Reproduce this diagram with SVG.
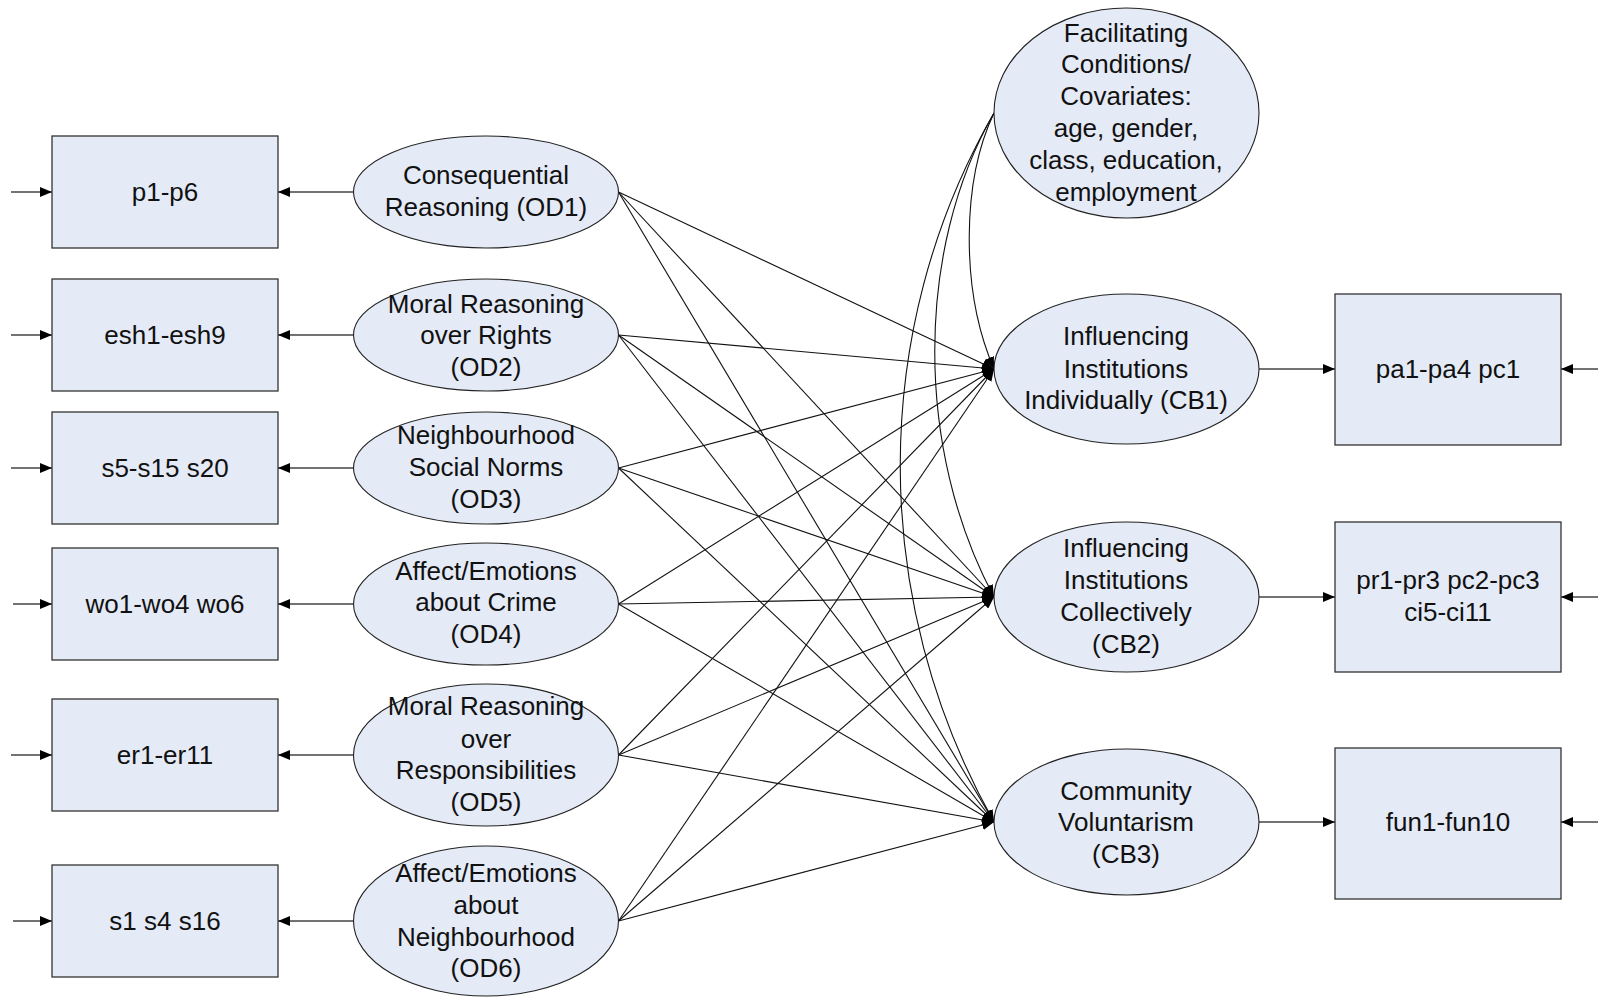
<svg xmlns="http://www.w3.org/2000/svg" width="1598" height="998" viewBox="0 0 1598 998">
<defs>
<marker id="arr" viewBox="0 0 12 10" refX="12" refY="5" markerWidth="12" markerHeight="10" orient="auto" markerUnits="userSpaceOnUse"><path d="M0,0 L12,5 L0,10 z" fill="#000"/></marker>
</defs>
<style>
.box{fill:#E4EAF6;stroke:#333;stroke-width:1.3}
.ell{fill:#E4EAF6;stroke:#222;stroke-width:1.1}
.t{font-family:"Liberation Sans",Arial,sans-serif;font-size:26px;fill:#111;text-anchor:middle}
.c{fill:none;stroke:#111;stroke-width:1.1;marker-end:url(#arr)}
.g{fill:none;stroke:#444;stroke-width:1.3;marker-end:url(#arr)}
</style>
<rect width="1598" height="998" fill="#fff"/>
<g id="connectors">
<path class="g" d="M11 192H52"/>
<path class="g" d="M11 335H52"/>
<path class="g" d="M11 468H52"/>
<path class="g" d="M13 604H52"/>
<path class="g" d="M11 755H52"/>
<path class="g" d="M13 921H52"/>
<path class="g" d="M353.5 192H278"/>
<path class="g" d="M353.5 335H278"/>
<path class="g" d="M353.5 468H278"/>
<path class="g" d="M353.5 604H278"/>
<path class="g" d="M353.5 755H278"/>
<path class="g" d="M353.5 921H278"/>
<path class="g" d="M1259 369H1335"/>
<path class="g" d="M1259 597H1335"/>
<path class="g" d="M1259 822H1335"/>
<path class="g" d="M1598 369H1561"/>
<path class="g" d="M1598 597H1561"/>
<path class="g" d="M1598 822H1561"/>
<path class="c" d="M618.5 192L994 369"/>
<path class="c" d="M618.5 192L994 597"/>
<path class="c" d="M618.5 192L994 822"/>
<path class="c" d="M618.5 335L994 369"/>
<path class="c" d="M618.5 335L994 597"/>
<path class="c" d="M618.5 335L994 822"/>
<path class="c" d="M618.5 468L994 369"/>
<path class="c" d="M618.5 468L994 597"/>
<path class="c" d="M618.5 468L994 822"/>
<path class="c" d="M618.5 604L994 369"/>
<path class="c" d="M618.5 604L994 597"/>
<path class="c" d="M618.5 604L994 822"/>
<path class="c" d="M618.5 755L994 369"/>
<path class="c" d="M618.5 755L994 597"/>
<path class="c" d="M618.5 755L994 822"/>
<path class="c" d="M618.5 921L994 369"/>
<path class="c" d="M618.5 921L994 597"/>
<path class="c" d="M618.5 921L994 822"/>
<path class="c" d="M994 113C962 180 960 290 994 369"/>
<path class="c" d="M994 113C915 250 915 450 994 597"/>
<path class="c" d="M994 113C869 330 869 600 994 822"/>
</g>
<g id="n-p1p6"><rect class="box" x="52" y="136" width="226" height="112"/><text class="t" x="165" y="201">p1-p6</text></g>
<g id="n-esh"><rect class="box" x="52" y="279" width="226" height="112"/><text class="t" x="165" y="344">esh1-esh9</text></g>
<g id="n-s5"><rect class="box" x="52" y="412" width="226" height="112"/><text class="t" x="165" y="477">s5-s15 s20</text></g>
<g id="n-wo"><rect class="box" x="52" y="548" width="226" height="112"/><text class="t" x="165" y="613">wo1-wo4 wo6</text></g>
<g id="n-er"><rect class="box" x="52" y="699" width="226" height="112"/><text class="t" x="165" y="764">er1-er11</text></g>
<g id="n-s1"><rect class="box" x="52" y="865" width="226" height="112"/><text class="t" x="165" y="930">s1 s4 s16</text></g>
<g id="n-od1"><ellipse class="ell" cx="486" cy="192" rx="132.5" ry="56"/><text class="t"><tspan x="486" y="184">Consequential</tspan><tspan x="486" y="216">Reasoning (OD1)</tspan></text></g>
<g id="n-od2"><ellipse class="ell" cx="486" cy="335" rx="132.5" ry="56"/><text class="t"><tspan x="486" y="313">Moral Reasoning</tspan><tspan x="486" y="344">over Rights</tspan><tspan x="486" y="376">(OD2)</tspan></text></g>
<g id="n-od3"><ellipse class="ell" cx="486" cy="468" rx="132.5" ry="56"/><text class="t"><tspan x="486" y="444">Neighbourhood</tspan><tspan x="486" y="476">Social Norms</tspan><tspan x="486" y="508">(OD3)</tspan></text></g>
<g id="n-od4"><ellipse class="ell" cx="486" cy="604" rx="132.5" ry="61"/><text class="t"><tspan x="486" y="580">Affect/Emotions</tspan><tspan x="486" y="611">about Crime</tspan><tspan x="486" y="643">(OD4)</tspan></text></g>
<g id="n-od5"><ellipse class="ell" cx="486" cy="755" rx="132.5" ry="71"/><text class="t"><tspan x="486" y="715">Moral Reasoning</tspan><tspan x="486" y="748">over</tspan><tspan x="486" y="779">Responsibilities</tspan><tspan x="486" y="811">(OD5)</tspan></text></g>
<g id="n-od6"><ellipse class="ell" cx="486" cy="921" rx="132.5" ry="75"/><text class="t"><tspan x="486" y="882">Affect/Emotions</tspan><tspan x="486" y="914">about</tspan><tspan x="486" y="946">Neighbourhood</tspan><tspan x="486" y="977">(OD6)</tspan></text></g>
<g id="n-fc"><ellipse class="ell" cx="1126.5" cy="113" rx="132.5" ry="105"/><text class="t"><tspan x="1126" y="42">Facilitating</tspan><tspan x="1126" y="73">Conditions/</tspan><tspan x="1126" y="105">Covariates:</tspan><tspan x="1126" y="137">age, gender,</tspan><tspan x="1126" y="169">class, education,</tspan><tspan x="1126" y="201">employment</tspan></text></g>
<g id="n-cb1"><ellipse class="ell" cx="1126.5" cy="369" rx="132.5" ry="75"/><text class="t"><tspan x="1126" y="345">Influencing</tspan><tspan x="1126" y="378">Institutions</tspan><tspan x="1126" y="409">Individually (CB1)</tspan></text></g>
<g id="n-cb2"><ellipse class="ell" cx="1126.5" cy="597" rx="132.5" ry="75"/><text class="t"><tspan x="1126" y="557">Influencing</tspan><tspan x="1126" y="589">Institutions</tspan><tspan x="1126" y="621">Collectively</tspan><tspan x="1126" y="653">(CB2)</tspan></text></g>
<g id="n-cb3"><ellipse class="ell" cx="1126.5" cy="822" rx="132.5" ry="73"/><text class="t"><tspan x="1126" y="800">Community</tspan><tspan x="1126" y="831">Voluntarism</tspan><tspan x="1126" y="863">(CB3)</tspan></text></g>
<g id="n-pa"><rect class="box" x="1335" y="294" width="226" height="151"/><text class="t" x="1448" y="378">pa1-pa4 pc1</text></g>
<g id="n-pr"><rect class="box" x="1335" y="522" width="226" height="150"/><text class="t"><tspan x="1448" y="589">pr1-pr3 pc2-pc3</tspan><tspan x="1448" y="621">ci5-ci11</tspan></text></g>
<g id="n-fun"><rect class="box" x="1335" y="748" width="226" height="151"/><text class="t" x="1448" y="831">fun1-fun10</text></g>
</svg>
